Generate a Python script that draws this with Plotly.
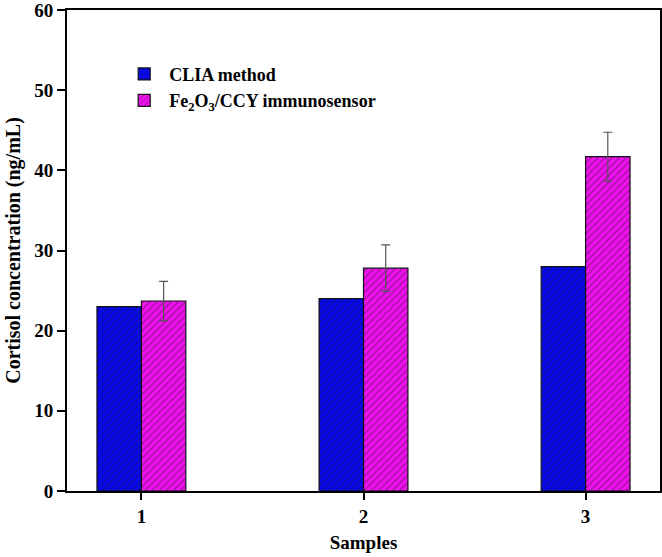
import plotly.graph_objects as go

samples = [1, 2, 3]
clia = [23.0, 24.0, 28.0]
sensor = [23.7, 27.8, 41.7]
sensor_err = [2.45, 2.9, 3.05]
names = ["CLIA method", "Fe<sub>2</sub>O<sub>3</sub>/CCY immunosensor"]

ff = "Liberation Serif, Times New Roman, serif"
bold = lambda s: dict(family=ff, size=s, color="black", weight="bold")

fig = go.Figure()
fig.add_trace(go.Bar(
    x=samples, y=clia, name=names[0], width=0.2, offset=-0.2,
    marker=dict(color="#0808ee", line=dict(color="#111", width=1.2),
                pattern=dict(shape="/", fgcolor="#1a1a3a", size=5, solidity=0.22)),
))
fig.add_trace(go.Bar(
    x=samples, y=sensor, name=names[1], width=0.2, offset=0.0,
    marker=dict(color="#ee10ee", line=dict(color="#111", width=1.2),
                pattern=dict(shape="/", fgcolor="#3a1a3a", size=5, solidity=0.22)),
    error_y=dict(type="data", array=sensor_err, color="#555", thickness=1.2, width=4.5),
))

fig.update_layout(
    width=662, height=557,
    margin=dict(l=67, r=2, t=10, b=66),
    paper_bgcolor="white", plot_bgcolor="white",
    font=bold(16),
    barmode="overlay",
    showlegend=True,
    legend=dict(x=0.088, y=0.905, xanchor="left", yanchor="top",
                bgcolor="rgba(0,0,0,0)", font=bold(18),
                tracegroupgap=0, itemwidth=40),
    xaxis=dict(
        range=[0.665, 3.335], tickvals=samples, ticktext=[str(s) for s in samples],
        ticks="outside", ticklen=7, tickwidth=2, tickcolor="black",
        showline=True, linewidth=2, linecolor="black", mirror=True,
        showgrid=False, zeroline=False, automargin=False,
        tickfont=bold(19), ticklabeloverflow="allow",
        title=dict(text="Samples", font=bold(19), standoff=10),
    ),
    yaxis=dict(
        range=[0, 60], tickvals=[0, 10, 20, 30, 40, 50, 60],
        ticks="outside", ticklen=8, tickwidth=2, tickcolor="black",
        showline=True, linewidth=2, linecolor="black", mirror=True,
        showgrid=False, zeroline=False, automargin=False,
        tickfont=bold(19), ticklabeloverflow="allow",
        title=dict(text="Cortisol concentration (ng/mL)", font=bold(20), standoff=8),
    ),
)

fig.write_html("out.html", config={"displayModeBar": False},
               post_script="document.body.style.margin='0';")
